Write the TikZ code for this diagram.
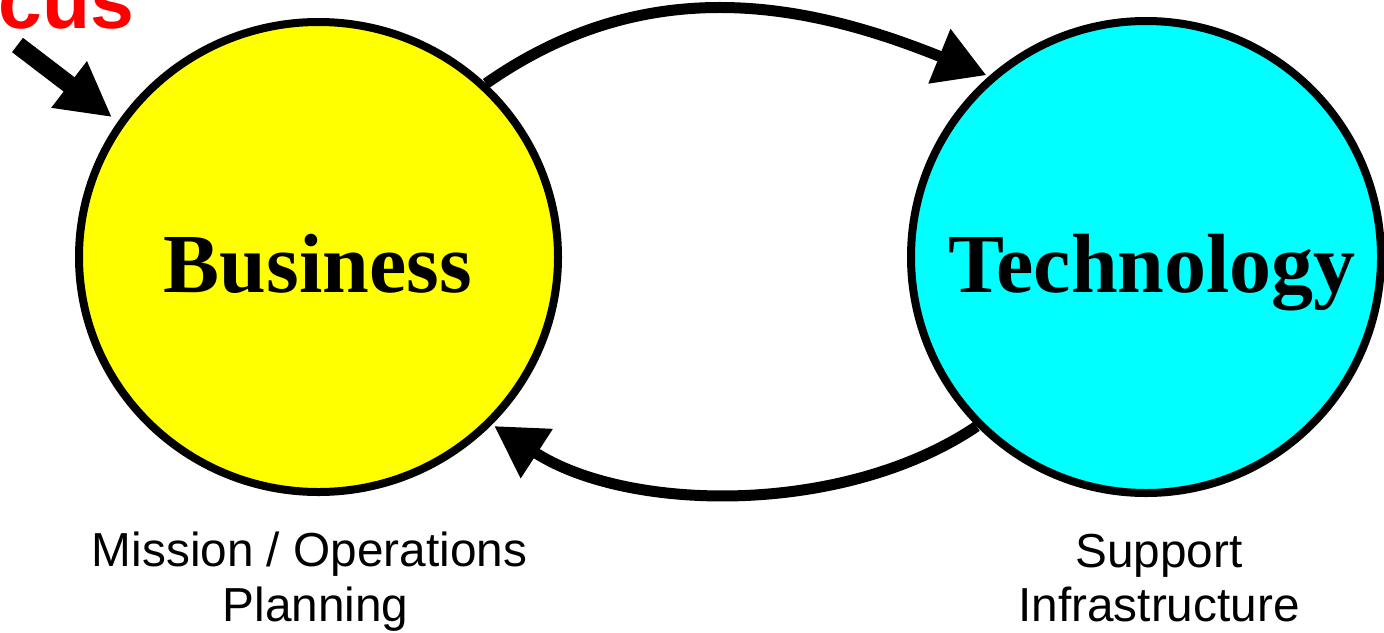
\documentclass[tikz,border=0pt]{standalone}
\usepackage{fontspec}
\setmainfont{Liberation Serif}
\newfontfamily\arialfont{Liberation Sans}
\usetikzlibrary{arrows.meta,shapes.geometric}
\definecolor{bizyellow}{HTML}{FFFF00}
\definecolor{techcyan}{HTML}{00FFFF}
\definecolor{focusred}{HTML}{FF0000}
\begin{document}
\begin{tikzpicture}[x=0.75pt,y=-0.75pt,
  areablob/.style={ellipse,draw=black,line width=6pt,inner sep=0pt},
  bigword/.style={font=\fontsize{63}{70}\selectfont\bfseries,inner sep=0pt,anchor=base},
  caption/.style={font=\arialfont\fontsize{35.8}{42}\selectfont,inner sep=0pt,anchor=base},
  flow/.style={line width=8.25pt,-{Triangle[length=38pt,width=42pt]},shorten >=2pt},
  pointer/.style={line width=13.5pt,-{Triangle[length=40.5pt,width=41pt]},shorten >=5.5pt}]
\useasboundingbox (0,0) rectangle (1384,632);
\clip (0,0) rectangle (1384,632);

% the two areas
\node[areablob,fill=bizyellow,minimum width=479*0.75pt,minimum height=470*0.75pt] (biz) at (318.5,257) {};
\node[areablob,fill=techcyan,minimum width=470*0.75pt,minimum height=472*0.75pt] (tech) at (1146,257) {};

% feedback loop between them
\draw[flow] (biz.46.7) to[out=35,in=158] (tech.131.3);
\draw[flow] (tech.225.3) to[out=214,in=327,looseness=0.85] (biz.316.9);

% focus marker
\coordinate (ftail) at (17.5,45);
\node[font=\arialfont\fontsize{59}{66}\selectfont\bfseries,text=focusred,inner sep=0pt,anchor=base west] (focus) at (-2,28.5) {cus};
\draw[pointer] (ftail) -- (biz.146.7);

% labels
\node[bigword] (bizlabel) at (318,292) {Business};
\node[bigword] (techlabel) at (1152,292) {Technology};
\node[caption] (bizcap1) at (309.5,566) {Mission / Operations};
\node[caption] (bizcap2) at (315.5,621) {Planning};
\node[caption] (techcap1) at (1159,567) {Support};
\node[caption] (techcap2) at (1159,621) {Infrastructure};
\end{tikzpicture}
\end{document}
